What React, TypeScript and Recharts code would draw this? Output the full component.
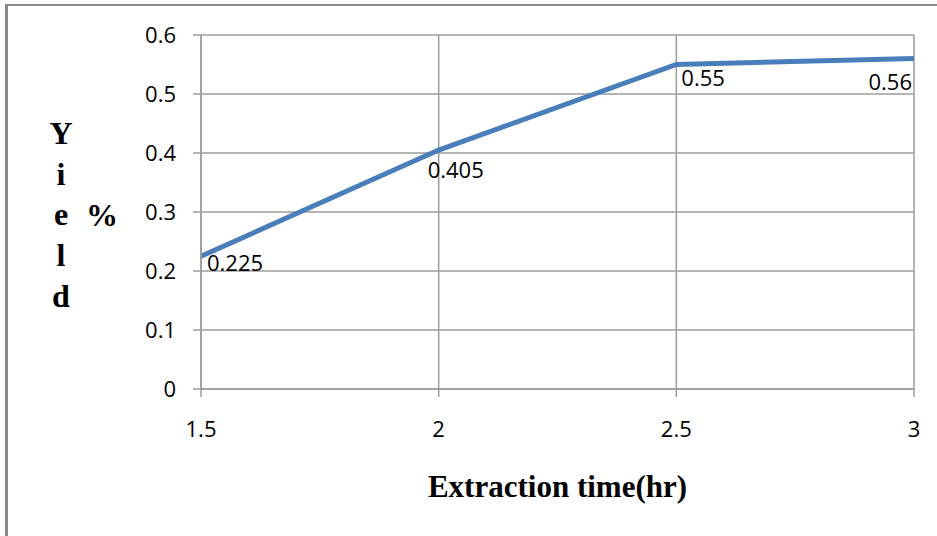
import { CartesianGrid, Label, LabelList, Line, LineChart, XAxis, YAxis } from "recharts";

// Extraction yield vs. extraction time
const hours = [1.5, 2, 2.5, 3];
const yieldPct = [0.225, 0.405, 0.55, 0.56];
const xTicks = [1.5, 2, 2.5, 3];
const yTicks = [0, 0.1, 0.2, 0.3, 0.4, 0.5, 0.6];
const yTitleLetters = ["Y", "i", "e", "l", "d"];

const data = hours.map((h, i) => ({ time: h, yield: yieldPct[i] }));

// where each value label sits relative to its point (text start / baseline)
const labelPlacement = [
  { dx: 6, dy: 15, anchor: "start" },
  { dx: -11, dy: 28, anchor: "start" },
  { dx: 5, dy: 21, anchor: "start" },
  { dx: -2, dy: 31, anchor: "end" },
];

const W = 937;
const H = 536;
const GRID = "#9d9d9d";
const LINE = "#4a7ebb";
const TICK_FONT = { fontFamily: "'Open Sans', sans-serif", fontSize: 22, fill: "#000" };
const TITLE_FONT = "'Liberation Serif', 'Times New Roman', serif";

function ValueLabel(props: any) {
  const { x, y, value, index } = props;
  const p = labelPlacement[index] ?? labelPlacement[0];
  return (
    <text
      x={x + p.dx}
      y={y + p.dy}
      textAnchor={p.anchor}
      fontFamily={TICK_FONT.fontFamily}
      fontSize={TICK_FONT.fontSize}
      fill="#000"
    >
      {value}
    </text>
  );
}

function YTitle() {
  return (
    <g fontFamily={TITLE_FONT} fontWeight="bold" fontSize={32} fill="#000">
      {yTitleLetters.map((ch, i) => (
        <text key={i} x={61} y={144 + i * 40.7} textAnchor="middle">
          {ch}
        </text>
      ))}
      <text x={102} y={226} textAnchor="middle">%</text>
    </g>
  );
}

function XTitle(props: any) {
  const vb = props.viewBox;
  return (
    <text
      x={vb.x + vb.width / 2}
      y={497}
      textAnchor="middle"
      fontFamily={TITLE_FONT}
      fontWeight="bold"
      fontSize={31}
      fill="#000"
    >
      Extraction time(hr)
    </text>
  );
}

export default function App() {
  return (
    <div style={{ position: "absolute", left: 0, top: 0, width: W, height: H, overflow: "hidden", background: "#fff" }}>
      {/* frame: only the left and top edges fall inside the window */}
      <div
        style={{
          position: "absolute",
          left: 5,
          top: 4,
          width: W,
          height: H,
          borderLeft: "3px solid #8a8a8a",
          borderTop: "2px solid #8a8a8a",
        }}
      />
      <div style={{ position: "absolute", left: 0, top: 0 }}>
        <LineChart width={W} height={H} data={data} margin={{ top: 35, right: 23, bottom: 87, left: 0 }}>
          <CartesianGrid stroke={GRID} strokeWidth={1.5} />
          <XAxis
            dataKey="time"
            type="number"
            domain={[1.5, 3]}
            ticks={xTicks}
            height={60}
            stroke={GRID}
            strokeWidth={1.5}
            tickSize={8}
            tickMargin={24}
            tick={TICK_FONT}
            tickFormatter={(v: number) => String(v)}
          >
            <Label content={XTitle} />
          </XAxis>
          <YAxis
            type="number"
            domain={[0, 0.6]}
            ticks={yTicks}
            width={201}
            stroke={GRID}
            strokeWidth={1.5}
            tickSize={8}
            tickMargin={17}
            tick={TICK_FONT}
            tickFormatter={(v: number) => String(v)}
          >
            <Label content={YTitle} />
          </YAxis>
          <Line
            type="linear"
            dataKey="yield"
            stroke={LINE}
            strokeWidth={5}
            dot={false}
            isAnimationActive={false}
          >
            <LabelList dataKey="yield" content={ValueLabel} />
          </Line>
        </LineChart>
      </div>
    </div>
  );
}
